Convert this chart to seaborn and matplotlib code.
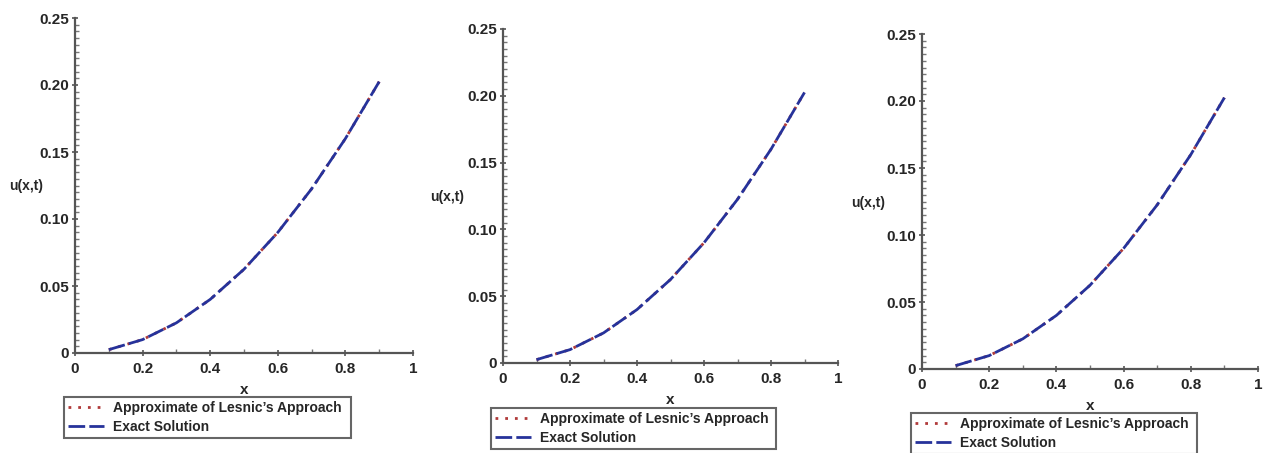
import numpy as np
import pandas as pd
import matplotlib
matplotlib.use("Agg")
import matplotlib.pyplot as plt
from matplotlib.ticker import MultipleLocator
import seaborn as sns

sns.set_style("ticks")
plt.rcParams['font.family'] = ['Liberation Sans', 'DejaVu Sans']
plt.rcParams['font.weight'] = 'bold'

# values (same curve in all three panels)
x_vals = [0.1, 0.2, 0.3, 0.4, 0.5, 0.6, 0.7, 0.8, 0.9]
u_approx = [0.0025, 0.01, 0.0225, 0.04, 0.0625, 0.09, 0.1225, 0.16, 0.2025]
u_exact = [0.0025, 0.01, 0.0225, 0.04, 0.0625, 0.09, 0.1225, 0.16, 0.2025]
x_ticks = [0, 0.2, 0.4, 0.6, 0.8, 1]
x_ticklabels = ['0', '0.2', '0.4', '0.6', '0.8', '1']
y_ticks = [0, 0.05, 0.10, 0.15, 0.20, 0.25]
y_ticklabels = ['0', '0.05', '0.10', '0.15', '0.20', '0.25']
labels = ["Approximate of Lesnic\u2019s Approach", "Exact Solution"]

W, H = 1268, 453
fig = plt.figure(figsize=(W / 100, H / 100), dpi=100)

# panel boxes in pixels: left, right, top, bottom
panels = [(75, 413, 18, 353), (503, 838, 29, 363), (922, 1258, 34, 369)]
ylab_pos = [(26, 186), (447, 197), (868, 203)]
legend_box = [(64, 351, 397, 440), (491, 776, 408, 450), (911, 1197, 413, 455)]

df = pd.DataFrame({'x': x_vals, 'approx': u_approx, 'exact': u_exact})

for i, (l, r, t, b) in enumerate(panels):
    ax = fig.add_axes([l / W, 1 - b / H, (r - l) / W, (b - t) / H])
    sns.lineplot(data=df, x='x', y='approx', ax=ax, color='#b03a3a',
                 linestyle=(0, (1, 2.5)), linewidth=2, label=labels[0])
    sns.lineplot(data=df, x='x', y='exact', ax=ax, color='#26329a',
                 linestyle=(0, (6, 1.5)), linewidth=2, label=labels[1])
    ax.set_xlim(0, 1)
    ax.set_ylim(0, 0.25)
    ax.set_xticks(x_ticks)
    ax.set_xticklabels(x_ticklabels)
    ax.set_yticks(y_ticks)
    ax.set_yticklabels(y_ticklabels)
    ax.xaxis.set_minor_locator(MultipleLocator(0.1))
    ax.yaxis.set_minor_locator(MultipleLocator(0.005))
    ax.tick_params(which='major', direction='inout', length=5, width=1.2,
                   color='#555555', labelsize=11, pad=2)
    ax.tick_params(axis='x', which='major', pad=4)
    ax.tick_params(which='minor', direction='in', length=3, width=1,
                   color='#777777')
    for sp in ['top', 'right']:
        ax.spines[sp].set_visible(False)
    for sp in ['left', 'bottom']:
        ax.spines[sp].set_color('#555555')
        ax.spines[sp].set_linewidth(1.6)
    ax.set_xlabel('x', fontsize=11, fontweight='bold', labelpad=5)
    ax.set_ylabel('')
    fig.text(ylab_pos[i][0] / W, 1 - ylab_pos[i][1] / H, 'u(x,t)',
             ha='center', va='center', fontsize=10, fontweight='bold')
    ax.get_legend().remove()
    handles, labs = ax.get_legend_handles_labels()
    x0, x1, y0, y1 = legend_box[i]
    leg = fig.legend(handles, labs, loc='upper left', mode='expand',
                     bbox_to_anchor=(x0 / W, 1 - y1 / H, (x1 - x0) / W, (y1 - y0) / H),
                     bbox_transform=fig.transFigure, fancybox=False,
                     edgecolor='#666666', framealpha=1, fontsize=10,
                     handlelength=2.6, borderaxespad=0, borderpad=0.3,
                     labelspacing=0.35, handletextpad=0.6)
    leg.get_frame().set_linewidth(1.5)

fig.savefig('out.png', dpi=100)
